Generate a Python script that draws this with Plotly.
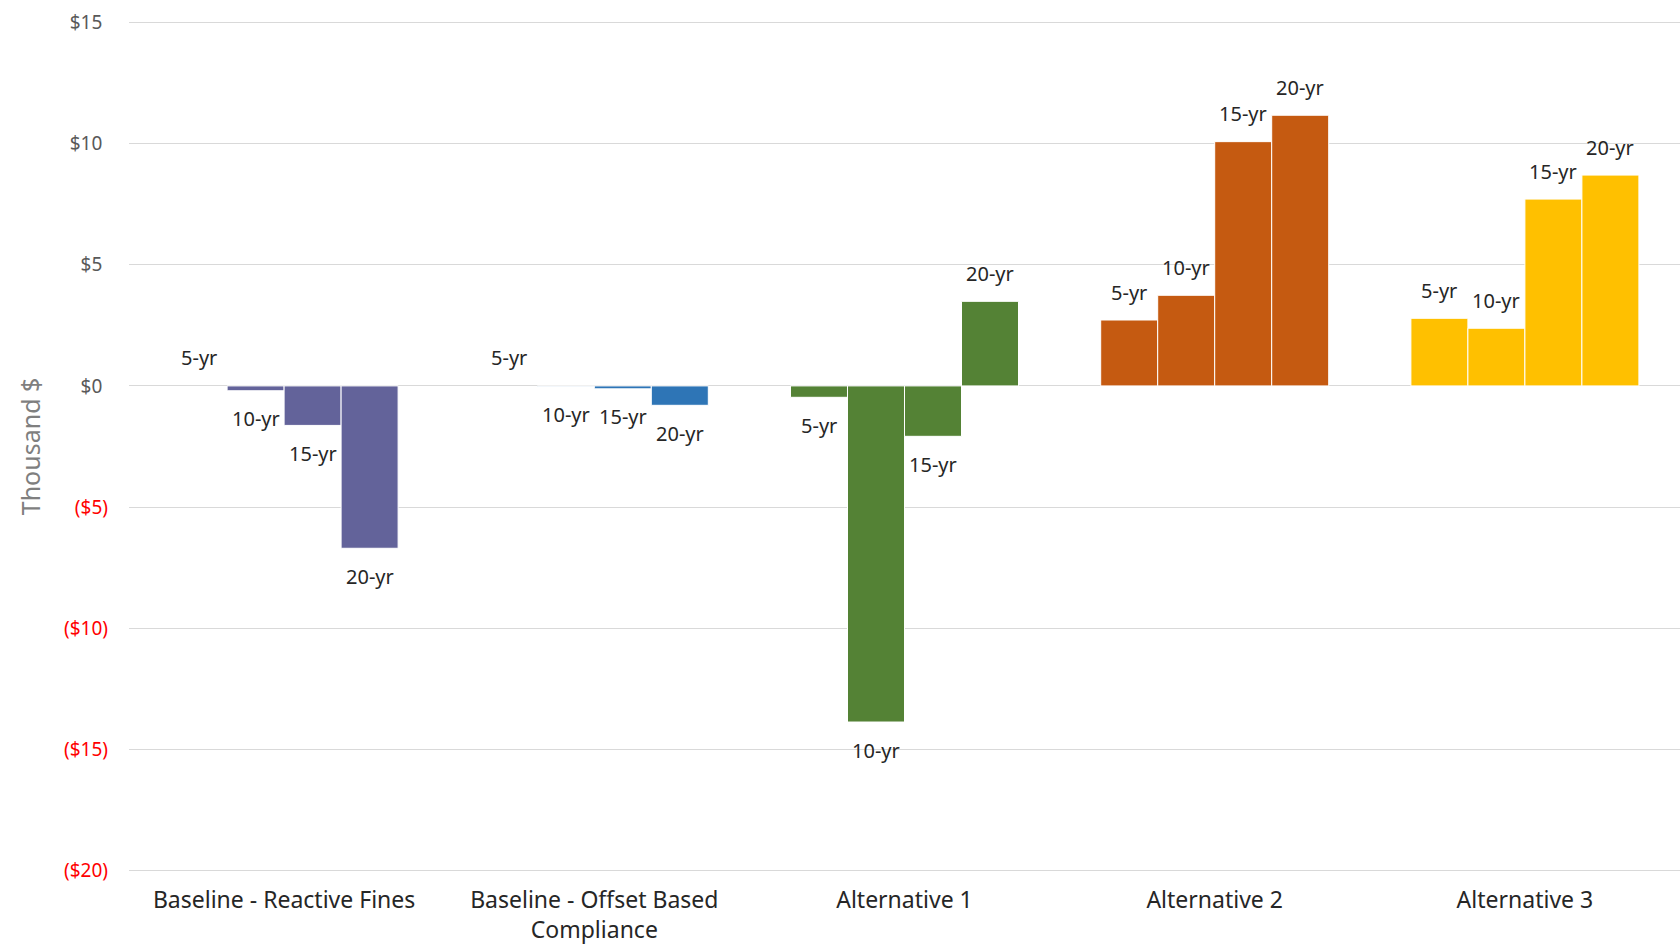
import plotly.graph_objects as go

categories = ["Baseline - Reactive Fines", "Baseline - Offset Based<br>Compliance",
              "Alternative 1", "Alternative 2", "Alternative 3"]
horizons = ["5-yr", "10-yr", "15-yr", "20-yr"]
values_5yr = [0.0, 0.0, -0.47, 2.72, 2.79]
values_10yr = [-0.2, -0.03, -13.87, 3.74, 2.38]
values_15yr = [-1.63, -0.12, -2.08, 10.08, 7.71]
values_20yr = [-6.70, -0.80, 3.49, 11.17, 8.70]
category_colors = ["#63639A", "#2E75B6", "#548235", "#C55A11", "#FFC000"]
tick_values = [15, 10, 5, 0, -5, -10, -15, -20]
tick_labels = ["$15", "$10", "$5", "$0", "($5)", "($10)", "($15)", "($20)"]

series = [values_5yr, values_10yr, values_15yr, values_20yr]
FONT = "Noto Sans"
BARGAP = 0.265

fig = go.Figure()
for name, vals in zip(horizons, series):
    fig.add_trace(go.Bar(
        x=categories, y=vals, name=name,
        marker=dict(color=category_colors,
                    line=dict(color="white", width=[0 if v == 0 else 1 for v in vals])),
        showlegend=False,
    ))

# data labels
n = len(horizons)
w = (1 - BARGAP) / n
for j, (name, vals) in enumerate(zip(horizons, series)):
    for i, v in enumerate(vals):
        xpos = i - (1 - BARGAP) / 2 + (j + 0.5) * w
        fig.add_annotation(
            x=xpos, y=v, xref="x", yref="y", text=name, showarrow=False,
            yshift=28 if v >= 0 else -28, yanchor="middle",
            font=dict(family=FONT, size=20, color="#262626"),
        )

def fmt(t, v):
    if v < 0:
        return f"<span style='color:#FF0000'>{t}</span>"
    return f"{t}<span style='color:rgba(0,0,0,0)'>)</span>"

fig.add_annotation(
    x=-0.064, y=0.5, xref="paper", yref="paper", text="Thousand $",
    textangle=-90, showarrow=False, xanchor="center", yanchor="middle",
    font=dict(family=FONT, size=25, color="#7F7F7F"),
)

fig.update_layout(
    width=1680, height=948,
    margin=dict(l=129, r=0, t=20, b=75),
    paper_bgcolor="white", plot_bgcolor="white",
    barmode="group", bargap=BARGAP, bargroupgap=0,
    font=dict(family=FONT, color="#262626"),
    xaxis=dict(
        showgrid=False, showline=False, ticks="", ticklabelstandoff=11,
        tickfont=dict(family=FONT, size=23, color="#262626"),
    ),
    yaxis=dict(
        range=[-20.1, 15.1], tickvals=tick_values,
        ticktext=[fmt(t, v) for t, v in zip(tick_labels, tick_values)],
        showgrid=True, gridcolor="#D9D9D9", gridwidth=1.3,
        zeroline=True, zerolinecolor="#D9D9D9", zerolinewidth=1.3,
        showline=False, ticks="", ticklabelstandoff=20,
        tickfont=dict(family=FONT, size=19, color="#595959"),
    ),
)

fig.write_html("out.html")
